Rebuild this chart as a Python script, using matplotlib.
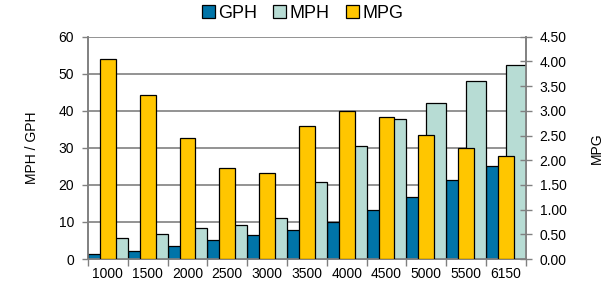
import matplotlib.pyplot as plt
import numpy as np

plt.rcParams['font.family'] = ['Liberation Sans', 'DejaVu Sans']

# data
rpm = ["1000", "1500", "2000", "2500", "3000", "3500", "4000", "4500", "5000", "5500", "6150"]
gph = [1.4, 2.1, 3.4, 5.0, 6.6, 7.7, 10.1, 13.1, 16.6, 21.2, 25.2]
mph = [5.6, 6.7, 8.4, 9.2, 11.2, 20.9, 30.4, 37.7, 42.0, 48.0, 52.4]
mpg = [4.05, 3.31, 2.44, 1.85, 1.75, 2.70, 3.00, 2.87, 2.51, 2.25, 2.08]

blue = "#0074A8"
mint = "#B7DCD4"
gold = "#FFC600"
grid_c = "#808080"

fig = plt.figure(figsize=(6.05, 2.83), dpi=100)
ax = fig.add_axes([0.1455, 0.0848, 0.7235, 0.7855])
ax2 = ax.twinx()

x = np.arange(len(rpm))
b1 = ax.bar(x - 0.25, gph, 0.5, color=blue, edgecolor="black", linewidth=0.9, zorder=3)
b2 = ax.bar(x + 0.25, mph, 0.5, color=mint, edgecolor="black", linewidth=0.9, zorder=3)
b3 = ax2.bar(x, mpg, 0.4, color=gold, edgecolor="black", linewidth=0.9, zorder=3)

ax.set_xlim(-0.5, len(rpm) - 0.5)
ax.set_ylim(0, 60)
ax2.set_ylim(0, 4.5)
ax.set_yticks(range(0, 61, 10))
ax2.set_yticks(np.arange(0, 4.51, 0.5))
ax2.set_yticklabels(["%.2f" % v for v in np.arange(0, 4.51, 0.5)])

ax.yaxis.grid(True, color=grid_c, linewidth=1.2, zorder=0)
ax.set_axisbelow(True)

# category labels centred, tick marks between groups
ax.set_xticks(x)
ax.set_xticklabels(rpm)
ax.set_xticks(np.arange(-0.5, len(rpm), 1), minor=True)
ax.tick_params(axis="x", which="major", length=0, pad=6, labelsize=10)
ax.tick_params(axis="x", which="minor", length=5, color=grid_c, width=1)
ax.tick_params(axis="y", length=4, color=grid_c, width=1, labelsize=10, pad=6)
ax2.tick_params(axis="y", direction="inout", length=8, color=grid_c, width=1, labelsize=10, pad=6)

for a in (ax, ax2):
    for s in a.spines.values():
        s.set_color(grid_c)
        s.set_linewidth(1.2)
    a.spines["top"].set_visible(False)

ax.set_ylabel("MPH / GPH", fontsize=10, labelpad=14)
ax2.set_ylabel("MPG", fontsize=10, labelpad=17)

fig.legend([b1, b2, b3], ["GPH", "MPH", "MPG"], loc="upper center",
           bbox_to_anchor=(0.5, 1.04), ncol=3, frameon=False, fontsize=13,
           handlelength=0.7, handleheight=0.7, handletextpad=0.2, columnspacing=0.9)

fig.savefig("out.png", dpi=100)
